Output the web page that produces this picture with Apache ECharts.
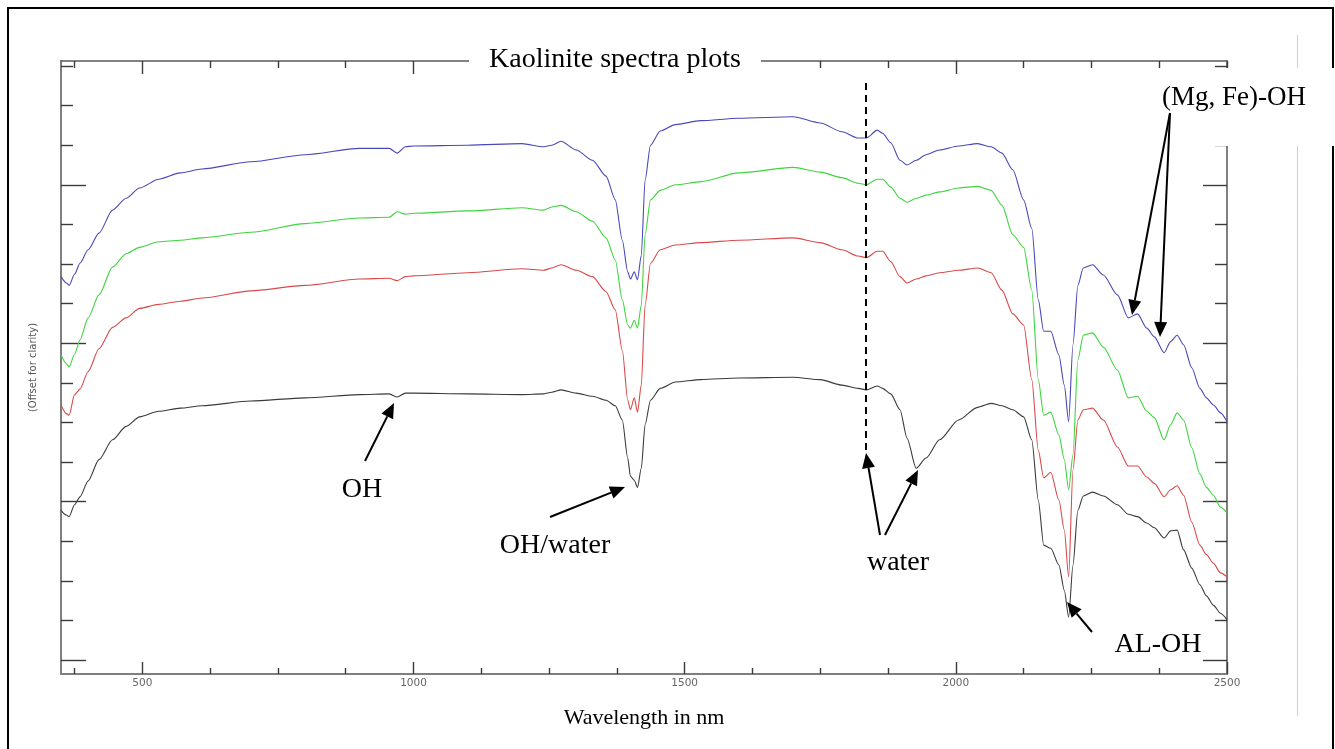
<!DOCTYPE html>
<html>
<head>
<meta charset="utf-8">
<title>Kaolinite spectra plots</title>
<script src="https://cdn.jsdelivr.net/npm/echarts@6/dist/echarts.min.js"></script>
<style>
  html, body { margin: 0; padding: 0; background: #fff; }
  #chart { width: 1335px; height: 749px; }
</style>
</head>
<body>
<div id="chart"></div>
<script>
// Wavelength grid (nm) shared by the four spectra
const WAVELENGTH_NM = [350, 360, 365, 375, 385, 400, 420, 445, 470, 495, 530, 570, 610, 700, 800, 900, 955, 970, 985, 1000,
  1100, 1200, 1240, 1255, 1272, 1300, 1330, 1355, 1372, 1385, 1395, 1400, 1407, 1413, 1420, 1427, 1437, 1455, 1483, 1530,
  1600, 1700, 1750, 1790, 1820, 1835, 1855, 1865, 1880, 1897, 1910, 1927, 1945, 1970, 2005, 2040, 2065, 2085, 2105, 2125,
  2140, 2152, 2162, 2175, 2190, 2200, 2208, 2216, 2225, 2235, 2252, 2272, 2298, 2318, 2335, 2352, 2366, 2384, 2396, 2408,
  2420, 2435, 2450, 2462, 2475, 2488, 2500];

// Reflectance (%), each sample offset for clarity
const SPECTRUM_BLUE = [48.4, 47.6, 47.3, 48.7, 50.1, 51.8, 53.9, 56.8, 58.3, 59.6, 60.7, 61.5, 62.0, 62.9, 63.8, 64.6, 64.6, 64.0, 64.8, 64.9,
  65.0, 65.2, 64.8, 65.0, 65.5, 64.4, 63.1, 61.1, 58.1, 53.0, 49.0, 48.1, 49.0, 48.0, 51.1, 60.6, 65.0, 66.8, 67.6, 68.1,
  68.4, 68.6, 67.8, 66.7, 65.9, 65.9, 66.9, 66.5, 65.3, 63.1, 62.5, 63.1, 63.8, 64.4, 64.9, 65.2, 64.8, 64.0, 61.9, 58.1,
  54.5, 45.5, 41.5, 41.5, 38.5, 34.7, 30.1, 39.8, 47.3, 49.5, 49.9, 48.6, 46.1, 43.2, 43.7, 41.9, 40.8, 38.8, 40.2, 41.0,
  39.8, 36.9, 34.3, 33.1, 32.2, 31.2, 30.1];

const SPECTRUM_GREEN = [38.5, 37.4, 37.0, 38.6, 40.4, 43.2, 46.1, 49.6, 51.3, 52.1, 52.8, 53.0, 53.3, 54.0, 55.1, 55.8, 55.9, 56.6, 56.3, 56.4,
  56.7, 57.1, 56.8, 57.2, 57.4, 56.6, 55.4, 53.3, 50.5, 45.5, 42.3, 41.9, 42.9, 41.9, 44.8, 53.7, 58.1, 59.3, 60.0, 60.4,
  61.5, 62.2, 61.6, 60.9, 60.2, 60.0, 60.7, 60.7, 59.7, 58.3, 57.8, 58.3, 58.7, 59.1, 59.6, 59.8, 59.3, 57.4, 53.7, 52.1,
  46.7, 35.4, 30.9, 31.3, 28.4, 25.3, 21.5, 25.9, 37.9, 41.0, 41.3, 39.5, 36.6, 33.1, 33.3, 31.4, 30.6, 27.8, 29.7, 31.2,
  30.3, 26.8, 23.5, 21.8, 20.8, 19.3, 18.6];

const SPECTRUM_RED = [32.2, 31.1, 30.9, 33.5, 34.2, 36.4, 39.3, 42.0, 43.2, 44.4, 44.9, 45.3, 45.7, 46.6, 47.3, 48.1, 48.2, 47.9, 48.4, 48.5,
  48.9, 49.4, 49.2, 49.5, 49.9, 49.2, 48.4, 46.5, 44.2, 39.1, 32.8, 31.6, 33.1, 31.3, 34.7, 44.8, 50.1, 51.8, 52.4, 52.7,
  53.0, 53.3, 52.7, 51.8, 51.0, 50.8, 51.6, 51.6, 50.3, 48.4, 47.6, 48.1, 48.5, 48.9, 49.2, 49.5, 48.9, 46.7, 43.7, 42.3,
  35.4, 26.5, 23.0, 23.7, 20.2, 16.4, 10.5, 24.0, 30.3, 31.6, 31.8, 30.3, 26.9, 24.5, 24.5, 23.1, 22.3, 20.6, 21.5, 22.0,
  20.8, 17.4, 14.5, 13.3, 12.2, 11.0, 10.5];

const SPECTRUM_BLACK = [18.9, 18.3, 18.1, 19.6, 20.6, 22.6, 25.3, 27.8, 29.5, 30.7, 31.4, 31.8, 32.1, 32.7, 33.1, 33.5, 33.6, 33.2, 33.7, 33.7,
  33.6, 33.5, 33.6, 33.8, 34.1, 33.7, 33.3, 32.8, 32.1, 30.3, 25.5, 23.2, 22.7, 21.8, 24.2, 29.7, 32.8, 34.3, 35.1, 35.4,
  35.6, 35.7, 35.4, 34.7, 34.3, 34.1, 34.6, 34.3, 33.6, 31.6, 28.0, 24.2, 25.5, 27.8, 30.3, 31.9, 32.4, 32.1, 31.6, 30.7,
  27.8, 20.2, 14.5, 14.1, 12.0, 8.8, 5.4, 12.0, 18.9, 20.7, 21.2, 20.7, 19.6, 18.4, 18.1, 17.3, 16.7, 15.4, 16.3, 16.4,
  13.9, 11.6, 9.5, 8.1, 6.9, 5.9, 5.1];

// Tick positions
const X_MAJOR_TICKS = [500, 1000, 1500, 2000, 2500];
const X_MINOR_TICKS = [375, 625, 750, 875, 1125, 1250, 1375, 1625, 1750, 1875, 2125, 2250, 2375];
const Y_MAJOR_TICKS = [0, 20, 40, 60];
const Y_MINOR_TICKS = [5, 10, 15, 25, 30, 35, 45, 50, 55, 65, 70, 75];

const X_MIN = 350, X_MAX = 2500;
const Y_MIN = -1.77, Y_MAX = 75.63;

const SERIF = "'Liberation Serif', 'DejaVu Serif', serif";
const SANS = "'DejaVu Sans', sans-serif";

function pairs(values) {
  return WAVELENGTH_NM.map((w, i) => [w, values[i]]);
}

function xAxisDef(position, ticks, len, withLabels, lineColor, lineWidth, showLine) {
  return {
    type: 'value', position, min: X_MIN, max: X_MAX,
    splitLine: { show: false },
    axisLine: { show: showLine, onZero: false, lineStyle: { color: lineColor, width: lineWidth } },
    axisTick: { show: true, inside: true, length: len, customValues: ticks,
      lineStyle: { color: '#3a3a3a', width: 1.4 } },
    axisLabel: withLabels
      ? { show: true, customValues: ticks, margin: 4, color: '#666', fontFamily: SANS, fontSize: 10.5,
          formatter: v => String(v) }
      : { show: false }
  };
}

function yAxisDef(position, ticks, len, showLine) {
  return {
    type: 'value', position, min: Y_MIN, max: Y_MAX,
    splitLine: { show: false },
    axisLine: { show: showLine, onZero: false, lineStyle: { color: '#7f7f7f', width: 2 } },
    axisTick: { show: true, inside: true, length: len, customValues: ticks,
      lineStyle: { color: '#3a3a3a', width: 1.4 } },
    axisLabel: { show: false }
  };
}

// Arrow made of a shaft and a filled head, from tail (x1,y1) to tip (x2,y2)
function arrow(x1, y1, x2, y2) {
  const a = Math.atan2(y2 - y1, x2 - x1);
  const L = 15, W = 6.5;
  const bx = x2 - L * Math.cos(a), by = y2 - L * Math.sin(a);
  const nx = -Math.sin(a), ny = Math.cos(a);
  return [
    { type: 'line', z: 120, shape: { x1, y1, x2: bx, y2: by }, style: { stroke: '#000', lineWidth: 2 } },
    { type: 'polygon', z: 120, shape: { points: [[x2, y2], [bx + nx * W, by + ny * W], [bx - nx * W, by - ny * W]] },
      style: { fill: '#000' } }
  ];
}

function label(text, cx, cy, size) {
  return { type: 'text', z: 125, x: cx, y: cy,
    style: { text, fill: '#000', font: `${size}px ${SERIF}`, align: 'center', verticalAlign: 'middle' } };
}

const xAxisName = {
  name: 'Wavelength in nm', nameLocation: 'middle', nameGap: 33,
  nameTextStyle: { fontFamily: SERIF, fontSize: 22, color: '#000' }
};

const chart = echarts.init(document.getElementById('chart'), null, { renderer: 'canvas' });

chart.setOption({
  backgroundColor: '#fff',
  animation: false,
  title: {
    text: 'Kaolinite spectra plots',
    left: 469, top: 41,
    padding: [3, 20, 3, 20],
    backgroundColor: '#fff',
    z: 50,
    textStyle: { fontFamily: SERIF, fontSize: 28, fontWeight: 'normal', color: '#000', lineHeight: 32 }
  },
  grid: { left: 61, right: 108, top: 61, bottom: 75, outerBoundsMode: 'none', containLabel: false },
  xAxis: [
    Object.assign(xAxisDef('bottom', X_MINOR_TICKS, 6, false, '#7f7f7f', 2, true), xAxisName),
    xAxisDef('bottom', X_MAJOR_TICKS, 12, true, '#7f7f7f', 2, false),
    xAxisDef('top', X_MINOR_TICKS, 7, false, '#5a5a5a', 1.5, true),
    xAxisDef('top', X_MAJOR_TICKS, 13, false, '#5a5a5a', 1.5, false)
  ],
  yAxis: [
    Object.assign(yAxisDef('left', Y_MINOR_TICKS, 12, true), {
      name: '(Offset for clarity)', nameLocation: 'middle', nameGap: 23, nameRotate: 90,
      nameTextStyle: { fontFamily: SANS, fontSize: 10, color: '#555' }
    }),
    yAxisDef('left', Y_MAJOR_TICKS, 25, false),
    yAxisDef('right', Y_MINOR_TICKS, 12, true),
    yAxisDef('right', Y_MAJOR_TICKS, 24, false)
  ],
  series: [
    { name: 'Blue', color: '#4848b8', data: pairs(SPECTRUM_BLUE) },
    { name: 'Green', color: '#3fd43f', data: pairs(SPECTRUM_GREEN) },
    { name: 'Red', color: '#d84a4a', data: pairs(SPECTRUM_RED) },
    { name: 'Black', color: '#3a3a3a', data: pairs(SPECTRUM_BLACK) }
  ].map(s => ({
    type: 'line', name: s.name, data: s.data, xAxisIndex: 0, yAxisIndex: 0,
    showSymbol: false, smooth: 0.25, smoothMonotone: 'x',
    lineStyle: { color: s.color, width: 1.1 }, itemStyle: { color: s.color }
  })),
  graphic: [
    // page frame and image edge
    { type: 'rect', z: 110, shape: { x: 8, y: 8, width: 1325, height: 780 },
      style: { fill: 'none', stroke: '#000', lineWidth: 2 } },
    { type: 'line', z: 110, shape: { x1: 1297.5, y1: 35, x2: 1297.5, y2: 716 },
      style: { stroke: '#cfcfcf', lineWidth: 1 } },
    // water band marker
    { type: 'line', z: 115, shape: { x1: 866, y1: 83, x2: 866, y2: 452 },
      style: { stroke: '#000', lineWidth: 2, lineDash: [7, 5] } },
    // box behind the (Mg, Fe)-OH note
    { type: 'rect', z: 118, shape: { x: 1150, y: 68, width: 186, height: 78 }, style: { fill: '#fff' } },
    label('OH', 362, 490, 28),
    label('OH/water', 555, 546, 28),
    label('water', 898, 563, 28),
    label('AL-OH', 1158, 645, 28),
    { type: 'text', z: 125, x: 1162, y: 98,
      style: { text: '(Mg, Fe)-OH', fill: '#000', font: `27px ${SERIF}`, align: 'left', verticalAlign: 'middle' } },
    ...arrow(365, 461, 394, 403),
    ...arrow(550, 517, 625, 487),
    ...arrow(880, 535, 866, 453),
    ...arrow(885, 535, 918, 470),
    ...arrow(1092, 632, 1067, 602),
    ...arrow(1170, 113, 1132, 315),
    ...arrow(1170, 113, 1160, 337)
  ]
});
</script>
</body>
</html>
